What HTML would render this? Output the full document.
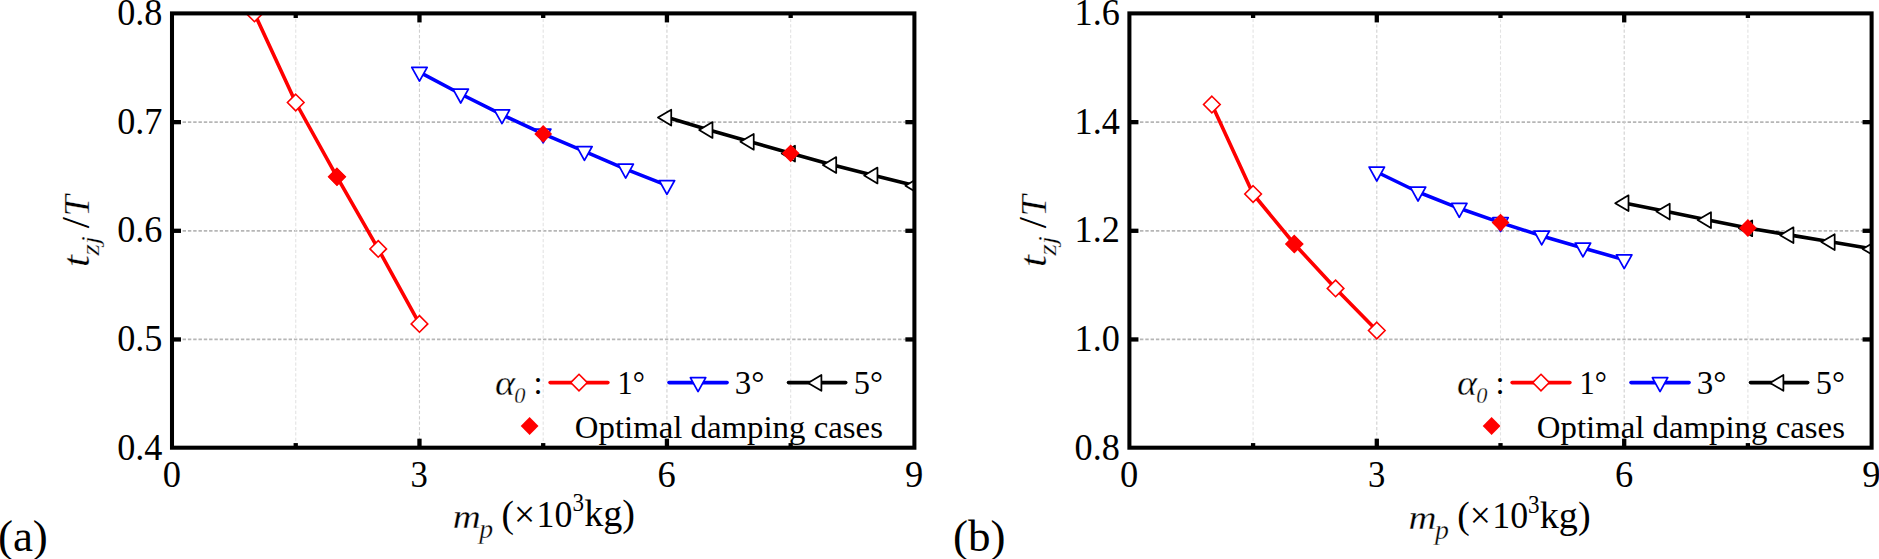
<!DOCTYPE html>
<html lang="en">
<head>
<meta charset="utf-8">
<title>Figure</title>
<style>
html,body{margin:0;padding:0;background:#fff;}
body{width:1879px;height:559px;overflow:hidden;}
svg{display:block;}
svg text{font-family:"Liberation Serif", "Times New Roman", Times, serif;fill:#000;}
</style>
</head>
<body>
<svg width="1879" height="559" viewBox="0 0 1879 559">
<rect width="1879" height="559" fill="#fff"/>
<clipPath id="clip1"><rect x="172.0" y="13.4" width="742.40" height="434.30"/></clipPath>
<g><line x1="172.0" x2="914.4" y1="339.45" y2="339.45" stroke="#b6b6b6" stroke-width="1.7" stroke-dasharray="3.4 1.9"/><line x1="172.0" x2="914.4" y1="230.80" y2="230.80" stroke="#b6b6b6" stroke-width="1.7" stroke-dasharray="3.4 1.9"/><line x1="172.0" x2="914.4" y1="122.15" y2="122.15" stroke="#b6b6b6" stroke-width="1.7" stroke-dasharray="3.4 1.9"/><line x1="419.47" x2="419.47" y1="13.4" y2="447.7" stroke="#d0d0d0" stroke-width="1.1" stroke-dasharray="3.3 2.07"/><line x1="666.93" x2="666.93" y1="13.4" y2="447.7" stroke="#d0d0d0" stroke-width="1.1" stroke-dasharray="3.3 2.07"/><line x1="295.73" x2="295.73" y1="13.4" y2="447.7" stroke="#e3e3e3" stroke-width="1.1" stroke-dasharray="3.3 2.07"/><line x1="543.20" x2="543.20" y1="13.4" y2="447.7" stroke="#e3e3e3" stroke-width="1.1" stroke-dasharray="3.3 2.07"/><line x1="790.67" x2="790.67" y1="13.4" y2="447.7" stroke="#e3e3e3" stroke-width="1.1" stroke-dasharray="3.3 2.07"/></g>
<g clip-path="url(#clip1)"><polyline fill="none" stroke="#ff0000" stroke-width="3.6" stroke-linejoin="round" points="254.49,13.40 295.73,102.50 336.98,176.80 378.22,248.90 419.47,323.90"/><path d="M254.49,5.10L262.79,13.40L254.49,21.70L246.19,13.40Z" fill="#fff" stroke="#ff0000" stroke-width="1.6"/><path d="M295.73,94.20L304.03,102.50L295.73,110.80L287.43,102.50Z" fill="#fff" stroke="#ff0000" stroke-width="1.6"/><path d="M336.98,168.50L345.28,176.80L336.98,185.10L328.68,176.80Z" fill="#fff" stroke="#ff0000" stroke-width="1.6"/><path d="M378.22,240.60L386.52,248.90L378.22,257.20L369.92,248.90Z" fill="#fff" stroke="#ff0000" stroke-width="1.6"/><path d="M419.47,315.60L427.77,323.90L419.47,332.20L411.17,323.90Z" fill="#fff" stroke="#ff0000" stroke-width="1.6"/><polyline fill="none" stroke="#0000ff" stroke-width="3.6" stroke-linejoin="round" points="419.47,72.20 460.71,94.00 501.96,114.70 543.20,133.90 584.44,151.40 625.69,169.10 666.93,185.40"/><path d="M411.77,67.30L427.17,67.30L419.47,81.20Z" fill="#fff" stroke="#0000ff" stroke-width="1.75" stroke-linejoin="round"/><path d="M453.01,89.10L468.41,89.10L460.71,103.00Z" fill="#fff" stroke="#0000ff" stroke-width="1.75" stroke-linejoin="round"/><path d="M494.26,109.80L509.66,109.80L501.96,123.70Z" fill="#fff" stroke="#0000ff" stroke-width="1.75" stroke-linejoin="round"/><path d="M535.50,129.00L550.90,129.00L543.20,142.90Z" fill="#fff" stroke="#0000ff" stroke-width="1.75" stroke-linejoin="round"/><path d="M576.74,146.50L592.14,146.50L584.44,160.40Z" fill="#fff" stroke="#0000ff" stroke-width="1.75" stroke-linejoin="round"/><path d="M617.99,164.20L633.39,164.20L625.69,178.10Z" fill="#fff" stroke="#0000ff" stroke-width="1.75" stroke-linejoin="round"/><path d="M659.23,180.50L674.63,180.50L666.93,194.40Z" fill="#fff" stroke="#0000ff" stroke-width="1.75" stroke-linejoin="round"/><polyline fill="none" stroke="#000000" stroke-width="3.6" stroke-linejoin="round" points="666.93,117.30 708.18,129.70 749.42,141.50 790.67,153.30 831.91,164.70 873.16,175.20 914.40,185.50"/><path d="M671.23,109.70L671.23,125.50L657.93,117.60Z" fill="#fff" stroke="#000000" stroke-width="1.75" stroke-linejoin="round"/><path d="M712.48,122.10L712.48,137.90L699.18,130.00Z" fill="#fff" stroke="#000000" stroke-width="1.75" stroke-linejoin="round"/><path d="M753.72,133.90L753.72,149.70L740.42,141.80Z" fill="#fff" stroke="#000000" stroke-width="1.75" stroke-linejoin="round"/><path d="M794.97,145.70L794.97,161.50L781.67,153.60Z" fill="#fff" stroke="#000000" stroke-width="1.75" stroke-linejoin="round"/><path d="M836.21,157.10L836.21,172.90L822.91,165.00Z" fill="#fff" stroke="#000000" stroke-width="1.75" stroke-linejoin="round"/><path d="M877.46,167.60L877.46,183.40L864.16,175.50Z" fill="#fff" stroke="#000000" stroke-width="1.75" stroke-linejoin="round"/><path d="M918.70,177.90L918.70,193.70L905.40,185.80Z" fill="#fff" stroke="#000000" stroke-width="1.75" stroke-linejoin="round"/><path d="M336.98,167.90L345.88,176.80L336.98,185.70L328.08,176.80Z" fill="#ff0000"/><path d="M543.20,125.00L552.10,133.90L543.20,142.80L534.30,133.90Z" fill="#ff0000"/><path d="M790.67,144.40L799.57,153.30L790.67,162.20L781.77,153.30Z" fill="#ff0000"/></g>
<g stroke="#000" stroke-width="4.3"><line x1="172.00" x2="181.03" y1="339.45" y2="339.45"/><line x1="914.40" x2="905.38" y1="339.45" y2="339.45"/><line x1="172.00" x2="181.03" y1="230.80" y2="230.80"/><line x1="914.40" x2="905.38" y1="230.80" y2="230.80"/><line x1="172.00" x2="181.03" y1="122.15" y2="122.15"/><line x1="914.40" x2="905.38" y1="122.15" y2="122.15"/><line y1="447.70" y2="438.68" x1="419.47" x2="419.47"/><line y1="13.40" y2="22.43" x1="419.47" x2="419.47"/><line y1="447.70" y2="438.68" x1="666.93" x2="666.93"/><line y1="13.40" y2="22.43" x1="666.93" x2="666.93"/><line y1="447.70" y2="443.07" x1="295.73" x2="295.73"/><line y1="13.40" y2="18.02" x1="295.73" x2="295.73"/><line y1="447.70" y2="443.07" x1="543.20" x2="543.20"/><line y1="13.40" y2="18.02" x1="543.20" x2="543.20"/><line y1="447.70" y2="443.07" x1="790.67" x2="790.67"/><line y1="13.40" y2="18.02" x1="790.67" x2="790.67"/></g>
<rect x="172.0" y="13.4" width="742.40" height="434.30" fill="none" stroke="#000" stroke-width="4.05"/>
<g><text transform="translate(162.49,459.55) scale(0.9930,1.0626)" font-size="36.5" text-anchor="end">0.4</text><text transform="translate(162.49,350.90) scale(0.9930,1.0626)" font-size="36.5" text-anchor="end">0.5</text><text transform="translate(162.49,242.25) scale(0.9930,1.0626)" font-size="36.5" text-anchor="end">0.6</text><text transform="translate(162.49,133.60) scale(0.9930,1.0626)" font-size="36.5" text-anchor="end">0.7</text><text transform="translate(162.49,24.95) scale(0.9930,1.0626)" font-size="36.5" text-anchor="end">0.8</text><text transform="translate(171.80,487.08) scale(1.0000,1.0424)" font-size="36.5" text-anchor="middle">0</text><text transform="translate(419.27,487.08) scale(0.9500,1.0424)" font-size="36.5" text-anchor="middle">3</text><text transform="translate(666.73,487.08) scale(1.0000,1.0424)" font-size="36.5" text-anchor="middle">6</text><text transform="translate(914.20,487.08) scale(1.0000,1.0424)" font-size="36.5" text-anchor="middle">9</text></g>
<g><text transform="translate(452.87,527.60) scale(1.0638,0.9449)" font-size="36.5" font-style="italic" stroke="#fff" stroke-width="0.3">m</text><text transform="translate(479.30,537.79) scale(1.0691,1.0197)" font-size="26" font-style="italic" stroke="#fff" stroke-width="0.3">p</text><text transform="translate(501.56,526.56) scale(1.0265,1.0242)" font-size="36.5">(×</text><text transform="translate(536.61,527.07) scale(0.9827,1.0626)" font-size="36.5">10</text><text transform="translate(572.43,511.15) scale(0.9400,1.0182)" font-size="24.5">3</text><text transform="translate(584.22,526.44) scale(1.0443,1.0195)" font-size="36.5">kg)</text></g>
<g transform="translate(0.00,0.00) rotate(-90)"><text transform="translate(-267.33,89.34) scale(1.2216,1.0458)" font-size="36.5" font-style="italic" stroke="#fff" stroke-width="0.3">t</text><text transform="translate(-255.62,99.44) scale(1.1176,0.9934)" font-size="26" font-style="italic" stroke="#fff" stroke-width="0.3">zj</text><text transform="translate(-228.20,89.05) scale(1.1000,1.0980)" font-size="36.5">/</text><text transform="translate(-216.62,89.10) scale(1.0475,1.0042)" font-size="36.5" font-style="italic" stroke="#fff" stroke-width="0.3">T</text></g>
<g><text transform="translate(495.06,394.51) scale(1.2381,1.1733)" font-size="31" font-style="italic" stroke="#fff" stroke-width="0.3">α</text><text transform="translate(514.32,402.74) scale(0.9756,1.0258)" font-size="23" font-style="italic" stroke="#fff" stroke-width="0.3">0</text><text transform="translate(533.46,394.26) scale(1.0571,1.0800)" font-size="31">:</text><line x1="550.10" x2="607.90" y1="382.6" y2="382.6" stroke="#ff0000" stroke-width="3.6" stroke-linecap="round"/><path d="M579.00,374.30L587.30,382.60L579.00,390.90L570.70,382.60Z" fill="#fff" stroke="#ff0000" stroke-width="1.6"/><text transform="translate(617.50,394.30) scale(0.9811,1.0747)" font-size="31">1°</text><line x1="669.00" x2="727.10" y1="382.6" y2="382.6" stroke="#0000ff" stroke-width="3.6" stroke-linecap="round"/><path d="M690.35,377.70L705.75,377.70L698.05,391.60Z" fill="#fff" stroke="#0000ff" stroke-width="1.75" stroke-linejoin="round"/><text transform="translate(734.80,394.23) scale(1.0640,1.0619)" font-size="31">3°</text><line x1="788.50" x2="845.70" y1="382.6" y2="382.6" stroke="#000000" stroke-width="3.6" stroke-linecap="round"/><path d="M821.40,375.00L821.40,390.80L808.10,382.90Z" fill="#fff" stroke="#000000" stroke-width="1.75" stroke-linejoin="round"/><text transform="translate(853.77,394.23) scale(1.0465,1.0619)" font-size="31">5°</text><path d="M529.60,417.10L538.50,426.00L529.60,434.90L520.70,426.00Z" fill="#ff0000"/><text transform="translate(574.78,437.61) scale(1.0594,1.0053)" font-size="31">Optimal damping cases</text></g>
<clipPath id="clip2"><rect x="1129.4" y="13.4" width="742.20" height="434.30"/></clipPath>
<g><line x1="1129.4" x2="1871.6" y1="339.45" y2="339.45" stroke="#b6b6b6" stroke-width="1.7" stroke-dasharray="3.4 1.9"/><line x1="1129.4" x2="1871.6" y1="230.80" y2="230.80" stroke="#b6b6b6" stroke-width="1.7" stroke-dasharray="3.4 1.9"/><line x1="1129.4" x2="1871.6" y1="122.15" y2="122.15" stroke="#b6b6b6" stroke-width="1.7" stroke-dasharray="3.4 1.9"/><line x1="1376.80" x2="1376.80" y1="13.4" y2="447.7" stroke="#d0d0d0" stroke-width="1.1" stroke-dasharray="3.3 2.07"/><line x1="1624.20" x2="1624.20" y1="13.4" y2="447.7" stroke="#d0d0d0" stroke-width="1.1" stroke-dasharray="3.3 2.07"/><line x1="1253.10" x2="1253.10" y1="13.4" y2="447.7" stroke="#e3e3e3" stroke-width="1.1" stroke-dasharray="3.3 2.07"/><line x1="1500.50" x2="1500.50" y1="13.4" y2="447.7" stroke="#e3e3e3" stroke-width="1.1" stroke-dasharray="3.3 2.07"/><line x1="1747.90" x2="1747.90" y1="13.4" y2="447.7" stroke="#e3e3e3" stroke-width="1.1" stroke-dasharray="3.3 2.07"/></g>
<g clip-path="url(#clip2)"><polyline fill="none" stroke="#ff0000" stroke-width="3.6" stroke-linejoin="round" points="1211.87,104.50 1253.10,194.00 1294.33,244.00 1335.57,288.40 1376.80,330.50"/><path d="M1211.87,96.20L1220.17,104.50L1211.87,112.80L1203.57,104.50Z" fill="#fff" stroke="#ff0000" stroke-width="1.6"/><path d="M1253.10,185.70L1261.40,194.00L1253.10,202.30L1244.80,194.00Z" fill="#fff" stroke="#ff0000" stroke-width="1.6"/><path d="M1294.33,235.70L1302.63,244.00L1294.33,252.30L1286.03,244.00Z" fill="#fff" stroke="#ff0000" stroke-width="1.6"/><path d="M1335.57,280.10L1343.87,288.40L1335.57,296.70L1327.27,288.40Z" fill="#fff" stroke="#ff0000" stroke-width="1.6"/><path d="M1376.80,322.20L1385.10,330.50L1376.80,338.80L1368.50,330.50Z" fill="#fff" stroke="#ff0000" stroke-width="1.6"/><polyline fill="none" stroke="#0000ff" stroke-width="3.6" stroke-linejoin="round" points="1376.80,172.00 1418.03,192.00 1459.27,208.30 1500.50,222.60 1541.73,235.90 1582.97,247.90 1624.20,259.70"/><path d="M1369.10,167.10L1384.50,167.10L1376.80,181.00Z" fill="#fff" stroke="#0000ff" stroke-width="1.75" stroke-linejoin="round"/><path d="M1410.33,187.10L1425.73,187.10L1418.03,201.00Z" fill="#fff" stroke="#0000ff" stroke-width="1.75" stroke-linejoin="round"/><path d="M1451.57,203.40L1466.97,203.40L1459.27,217.30Z" fill="#fff" stroke="#0000ff" stroke-width="1.75" stroke-linejoin="round"/><path d="M1492.80,217.70L1508.20,217.70L1500.50,231.60Z" fill="#fff" stroke="#0000ff" stroke-width="1.75" stroke-linejoin="round"/><path d="M1534.03,231.00L1549.43,231.00L1541.73,244.90Z" fill="#fff" stroke="#0000ff" stroke-width="1.75" stroke-linejoin="round"/><path d="M1575.27,243.00L1590.67,243.00L1582.97,256.90Z" fill="#fff" stroke="#0000ff" stroke-width="1.75" stroke-linejoin="round"/><path d="M1616.50,254.80L1631.90,254.80L1624.20,268.70Z" fill="#fff" stroke="#0000ff" stroke-width="1.75" stroke-linejoin="round"/><polyline fill="none" stroke="#000000" stroke-width="3.6" stroke-linejoin="round" points="1624.20,202.90 1665.43,211.30 1706.67,219.80 1747.90,228.00 1789.13,234.90 1830.37,241.80 1871.60,248.70"/><path d="M1628.50,195.30L1628.50,211.10L1615.20,203.20Z" fill="#fff" stroke="#000000" stroke-width="1.75" stroke-linejoin="round"/><path d="M1669.73,203.70L1669.73,219.50L1656.43,211.60Z" fill="#fff" stroke="#000000" stroke-width="1.75" stroke-linejoin="round"/><path d="M1710.97,212.20L1710.97,228.00L1697.67,220.10Z" fill="#fff" stroke="#000000" stroke-width="1.75" stroke-linejoin="round"/><path d="M1752.20,220.40L1752.20,236.20L1738.90,228.30Z" fill="#fff" stroke="#000000" stroke-width="1.75" stroke-linejoin="round"/><path d="M1793.43,227.30L1793.43,243.10L1780.13,235.20Z" fill="#fff" stroke="#000000" stroke-width="1.75" stroke-linejoin="round"/><path d="M1834.67,234.20L1834.67,250.00L1821.37,242.10Z" fill="#fff" stroke="#000000" stroke-width="1.75" stroke-linejoin="round"/><path d="M1875.90,241.10L1875.90,256.90L1862.60,249.00Z" fill="#fff" stroke="#000000" stroke-width="1.75" stroke-linejoin="round"/><path d="M1294.33,235.10L1303.23,244.00L1294.33,252.90L1285.43,244.00Z" fill="#ff0000"/><path d="M1500.50,213.70L1509.40,222.60L1500.50,231.50L1491.60,222.60Z" fill="#ff0000"/><path d="M1747.90,219.10L1756.80,228.00L1747.90,236.90L1739.00,228.00Z" fill="#ff0000"/></g>
<g stroke="#000" stroke-width="4.3"><line x1="1129.40" x2="1138.43" y1="339.45" y2="339.45"/><line x1="1871.60" x2="1862.57" y1="339.45" y2="339.45"/><line x1="1129.40" x2="1138.43" y1="230.80" y2="230.80"/><line x1="1871.60" x2="1862.57" y1="230.80" y2="230.80"/><line x1="1129.40" x2="1138.43" y1="122.15" y2="122.15"/><line x1="1871.60" x2="1862.57" y1="122.15" y2="122.15"/><line y1="447.70" y2="438.68" x1="1376.80" x2="1376.80"/><line y1="13.40" y2="22.43" x1="1376.80" x2="1376.80"/><line y1="447.70" y2="438.68" x1="1624.20" x2="1624.20"/><line y1="13.40" y2="22.43" x1="1624.20" x2="1624.20"/><line y1="447.70" y2="443.07" x1="1253.10" x2="1253.10"/><line y1="13.40" y2="18.02" x1="1253.10" x2="1253.10"/><line y1="447.70" y2="443.07" x1="1500.50" x2="1500.50"/><line y1="13.40" y2="18.02" x1="1500.50" x2="1500.50"/><line y1="447.70" y2="443.07" x1="1747.90" x2="1747.90"/><line y1="13.40" y2="18.02" x1="1747.90" x2="1747.90"/></g>
<rect x="1129.4" y="13.4" width="742.20" height="434.30" fill="none" stroke="#000" stroke-width="4.05"/>
<g><text transform="translate(1119.89,459.55) scale(0.9930,1.0626)" font-size="36.5" text-anchor="end">0.8</text><text transform="translate(1119.89,350.90) scale(0.9930,1.0626)" font-size="36.5" text-anchor="end">1.0</text><text transform="translate(1119.89,242.25) scale(0.9930,1.0626)" font-size="36.5" text-anchor="end">1.2</text><text transform="translate(1119.89,133.60) scale(0.9930,1.0626)" font-size="36.5" text-anchor="end">1.4</text><text transform="translate(1119.89,24.95) scale(0.9930,1.0626)" font-size="36.5" text-anchor="end">1.6</text><text transform="translate(1129.20,487.08) scale(1.0000,1.0424)" font-size="36.5" text-anchor="middle">0</text><text transform="translate(1376.60,487.08) scale(0.9500,1.0424)" font-size="36.5" text-anchor="middle">3</text><text transform="translate(1624.00,487.08) scale(1.0000,1.0424)" font-size="36.5" text-anchor="middle">6</text><text transform="translate(1871.40,487.08) scale(1.0000,1.0424)" font-size="36.5" text-anchor="middle">9</text></g>
<g><text transform="translate(1408.47,529.00) scale(1.0638,0.9449)" font-size="36.5" font-style="italic" stroke="#fff" stroke-width="0.3">m</text><text transform="translate(1434.90,539.19) scale(1.0691,1.0197)" font-size="26" font-style="italic" stroke="#fff" stroke-width="0.3">p</text><text transform="translate(1457.16,527.96) scale(1.0265,1.0242)" font-size="36.5">(×</text><text transform="translate(1492.21,528.47) scale(0.9827,1.0626)" font-size="36.5">10</text><text transform="translate(1528.03,512.55) scale(0.9400,1.0182)" font-size="24.5">3</text><text transform="translate(1539.82,527.84) scale(1.0443,1.0195)" font-size="36.5">kg)</text></g>
<g transform="translate(957.00,0.00) rotate(-90)"><text transform="translate(-267.33,89.34) scale(1.2216,1.0458)" font-size="36.5" font-style="italic" stroke="#fff" stroke-width="0.3">t</text><text transform="translate(-255.62,99.44) scale(1.1176,0.9934)" font-size="26" font-style="italic" stroke="#fff" stroke-width="0.3">zj</text><text transform="translate(-228.20,89.05) scale(1.1000,1.0980)" font-size="36.5">/</text><text transform="translate(-216.62,89.10) scale(1.0475,1.0042)" font-size="36.5" font-style="italic" stroke="#fff" stroke-width="0.3">T</text></g>
<g><text transform="translate(1457.06,394.51) scale(1.2381,1.1733)" font-size="31" font-style="italic" stroke="#fff" stroke-width="0.3">α</text><text transform="translate(1476.32,402.74) scale(0.9756,1.0258)" font-size="23" font-style="italic" stroke="#fff" stroke-width="0.3">0</text><text transform="translate(1495.46,394.26) scale(1.0571,1.0800)" font-size="31">:</text><line x1="1512.10" x2="1569.90" y1="382.6" y2="382.6" stroke="#ff0000" stroke-width="3.6" stroke-linecap="round"/><path d="M1541.00,374.30L1549.30,382.60L1541.00,390.90L1532.70,382.60Z" fill="#fff" stroke="#ff0000" stroke-width="1.6"/><text transform="translate(1579.50,394.30) scale(0.9811,1.0747)" font-size="31">1°</text><line x1="1631.00" x2="1689.10" y1="382.6" y2="382.6" stroke="#0000ff" stroke-width="3.6" stroke-linecap="round"/><path d="M1652.35,377.70L1667.75,377.70L1660.05,391.60Z" fill="#fff" stroke="#0000ff" stroke-width="1.75" stroke-linejoin="round"/><text transform="translate(1696.80,394.23) scale(1.0640,1.0619)" font-size="31">3°</text><line x1="1750.50" x2="1807.70" y1="382.6" y2="382.6" stroke="#000000" stroke-width="3.6" stroke-linecap="round"/><path d="M1783.40,375.00L1783.40,390.80L1770.10,382.90Z" fill="#fff" stroke="#000000" stroke-width="1.75" stroke-linejoin="round"/><text transform="translate(1815.77,394.23) scale(1.0465,1.0619)" font-size="31">5°</text><path d="M1491.60,417.10L1500.50,426.00L1491.60,434.90L1482.70,426.00Z" fill="#ff0000"/><text transform="translate(1536.78,437.61) scale(1.0594,1.0053)" font-size="31">Optimal damping cases</text></g>
<text x="-2.1" y="550.8" font-size="45">(a)</text>
<text x="952.9" y="550.8" font-size="45">(b)</text>
</svg>
</body>
</html>
